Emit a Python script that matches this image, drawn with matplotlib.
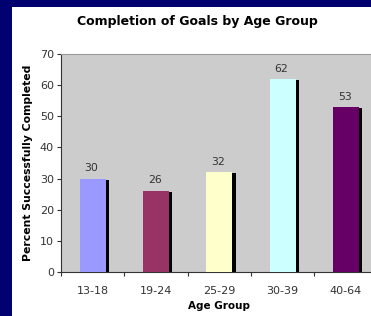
import matplotlib.pyplot as plt
from matplotlib.patches import Rectangle

# Chart data
age_groups = ["13-18", "19-24", "25-29", "30-39", "40-64"]
percent_completed = [30, 26, 32, 62, 53]
bar_colors = ["#9999FF", "#993366", "#FFFFCC", "#CCFFFF", "#660066"]

W, H = 371, 316
fig = plt.figure(figsize=(W / 100, H / 100), dpi=100, facecolor="#000070")

# White chart area on top of the navy slide background
fig.patches.append(Rectangle((12 / W, 0), 1, 1 - 7 / H, transform=fig.transFigure,
                             facecolor="white", edgecolor="none", zorder=-5))

# Plot area (runs past the right edge of the picture, as in the source)
left, right, top, bottom = 61, 377.7, 54.3, 271.7
ax = fig.add_axes([left / W, 1 - bottom / H, (right - left) / W, (bottom - top) / H])
ax.set_zorder(2)
ax.set_facecolor("#CCCCCC")

x = list(range(len(age_groups)))
bar_w = 0.41
shadow_w = 0.05
ax.bar([i + bar_w / 2 + shadow_w / 2 for i in x], [v - 0.35 for v in percent_completed],
       width=shadow_w, color="black", zorder=2)
ax.bar(x, percent_completed, width=bar_w, color=bar_colors, zorder=3)

for i, v in zip(x, percent_completed):
    ax.text(i - 0.02, v + 1.8, str(v), ha="center", va="bottom", fontsize=7.8, color="#333333")

ax.set_xlim(-0.5, 4.5)
ax.set_ylim(0, 70)
ax.set_yticks(range(0, 71, 10))
ax.set_xticks([i - 0.5 for i in x] + [4.5])
ax.set_xticklabels([])
ax.set_xticks(x, minor=True)
ax.set_xticklabels(age_groups, minor=True)
ax.tick_params(axis="x", which="major", length=3, direction="out", color="#333333")
ax.tick_params(axis="x", which="minor", length=0, pad=10, labelsize=8, labelcolor="#333333")
ax.tick_params(axis="y", length=3, direction="out", pad=2, labelsize=8,
               labelcolor="#333333", color="#333333")

ax.spines["right"].set_visible(False)
ax.spines["top"].set_color("#999999")
ax.spines["left"].set_color("#333333")
ax.spines["bottom"].set_color("#333333")

ax.set_xlabel("Age Group", fontsize=7.5, fontweight="bold", labelpad=4)
ax.set_ylabel("Percent Successfully Completed", fontsize=7.8, fontweight="bold", labelpad=5)

fig.text(197 / W, 1 - 21 / H, "Completion of Goals by Age Group", ha="center", va="center",
         fontsize=9, fontweight="bold")

fig.savefig("out.png", dpi=100, facecolor=fig.get_facecolor())
